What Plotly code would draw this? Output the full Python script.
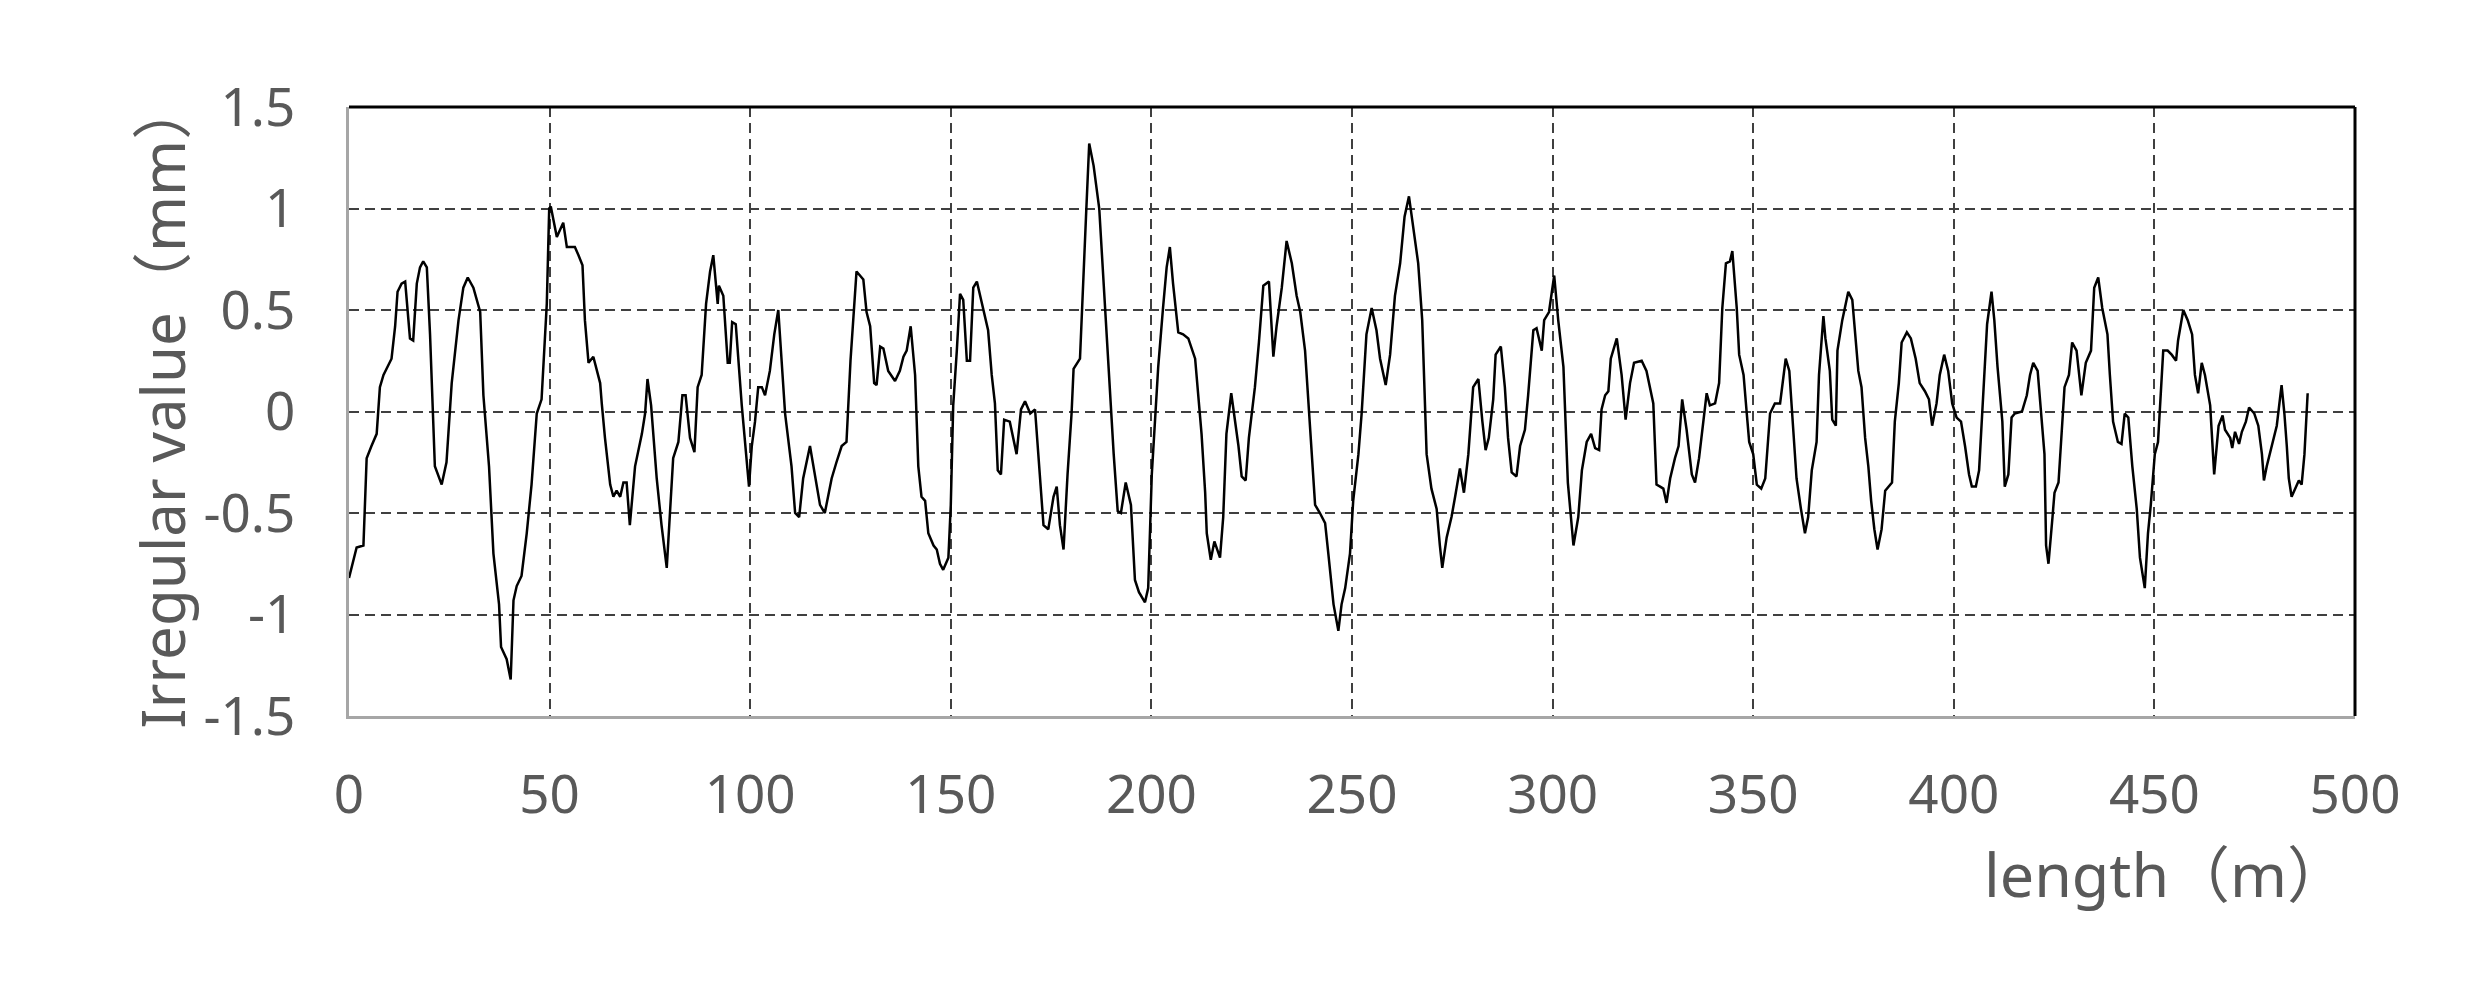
import plotly.graph_objects as go

# length along the track (m) and irregularity (mm) in four sections
len_a = [0, 1.9, 3.6, 4.4, 5.6, 6.9, 7.7, 8.6, 10.6, 11.5, 12.1, 13.1, 14.0, 15.2, 16.0, 16.9, 17.7, 18.5, 19.4, 20.2,
         21.4, 23.1, 24.3, 25.6, 27.3, 28.5, 29.6, 31.0, 32.7, 33.5, 34.9, 36.0, 37.4, 37.9, 39.3, 40.3, 41.0, 41.8, 43.0, 44.3,
         45.5, 46.8, 48.0, 48.7, 49.3, 49.9, 50.3, 51.8, 53.4, 54.3, 56.3, 57.2, 58.2, 58.8, 59.7, 60.9, 62.6,
         63.0, 63.8, 65.1, 65.9, 66.7, 67.6, 68.4, 69.2, 70.0, 71.3, 73.0, 73.8, 74.4, 75.3, 76.7, 77.9, 79.2, 80.8, 82.1, 83.1,
         83.9, 85.0, 86.1, 86.9, 87.9, 89.0, 90.0, 90.8, 91.9, 92.2, 93.3, 94.4, 94.9, 95.5, 96.4, 97.9, 99.7, 100.4, 101.2, 102.0,
         102.9, 103.7, 104.9, 106.0, 107.0, 108.7, 110.3, 111.2, 112.2, 113.2, 114.9, 116.3, 117.4, 118.6, 120.3, 121.5, 122.8, 124.0]
val_a = [-0.82, -0.67, -0.66, -0.23, -0.17, -0.11, 0.12, 0.18, 0.26, 0.42, 0.59, 0.63, 0.64, 0.36, 0.35, 0.63, 0.71, 0.74, 0.71, 0.38,
         -0.27, -0.36, -0.25, 0.14, 0.45, 0.61, 0.66, 0.61, 0.49, 0.08, -0.27, -0.70, -0.95, -1.16, -1.22, -1.32, -0.93, -0.86, -0.81, -0.60,
         -0.36, -0.01, 0.06, 0.30, 0.53, 1.00, 1.01, 0.86, 0.93, 0.81, 0.81, 0.77, 0.72, 0.45, 0.24, 0.27, 0.14,
         0.04, -0.13, -0.36, -0.42, -0.39, -0.42, -0.35, -0.35, -0.56, -0.27, -0.11, -0.01, 0.16, 0.03, -0.33, -0.56, -0.77, -0.23, -0.15, 0.08,
         0.08, -0.13, -0.20, 0.12, 0.18, 0.53, 0.69, 0.77, 0.53, 0.62, 0.57, 0.24, 0.24, 0.44, 0.43, 0.03, -0.37, -0.17, -0.05, 0.12,
         0.12, 0.08, 0.20, 0.38, 0.50, -0.01, -0.27, -0.50, -0.52, -0.33, -0.17, -0.33, -0.46, -0.50, -0.33, -0.25, -0.17, -0.15]

len_b = [125.0, 126.5, 128.2, 129.0, 129.9, 130.9, 131.5, 132.4, 133.2, 134.4, 136.1, 137.3, 138.2, 139.0, 140.0, 141.1, 141.9, 142.7, 143.6, 144.4,
         145.7, 146.5, 147.3, 148.1, 149.4, 150.0, 150.6, 151.5, 152.3, 153.1, 154.0, 154.8, 155.6, 156.5, 157.7, 159.3, 160.2, 161.0, 161.7, 162.5,
         163.3, 164.7, 166.4, 167.5, 168.5, 169.8, 171.0, 171.8, 173.1, 174.3, 175.6, 176.4, 177.2, 178.1, 179.1, 180.1, 180.6, 182.2, 182.8, 183.7,
         184.5, 185.6,
         187.0, 188.2, 189.0, 189.7, 190.6, 191.6, 192.4, 193.6, 194.9, 195.9, 196.9, 198.4, 199.2, 200.1, 200.9, 201.7, 202.9, 203.8, 204.6, 205.4,
         206.7, 207.9, 209.2, 210.9, 212.5, 213.4, 213.8, 214.8, 215.7, 217.1, 217.9, 218.7, 219.9, 221.7, 222.5, 223.5, 224.3, 225.8, 226.8, 227.9,
         229.3, 230.4, 231.2, 232.5, 233.7, 235.0, 236.2, 237.1, 238.3, 239.8, 240.8, 242.0, 243.3, 244.1, 245.4, 246.6, 247.4, 248.3, 249.5]
val_b = [0.25, 0.69, 0.65, 0.49, 0.42, 0.14, 0.13, 0.32, 0.31, 0.20, 0.15, 0.20, 0.27, 0.30, 0.42, 0.18, -0.27, -0.42, -0.44, -0.60,
         -0.66, -0.68, -0.75, -0.78, -0.72, -0.46, 0.03, 0.30, 0.58, 0.55, 0.25, 0.25, 0.61, 0.64, 0.53, 0.40, 0.18, 0.04, -0.29, -0.31,
         -0.04, -0.05, -0.21, 0.01, 0.05, -0.01, 0.01, -0.21, -0.56, -0.58, -0.42, -0.37, -0.56, -0.68, -0.31, -0.01, 0.21, 0.26, 0.57, 0.96,
         1.32, 1.21,
         1.00, 0.59, 0.28, 0.10, -0.21, -0.49, -0.50, -0.35, -0.46, -0.83, -0.89, -0.94, -0.87, -0.31, -0.07, 0.22, 0.51, 0.71, 0.81, 0.63,
         0.39, 0.38, 0.36, 0.26, -0.11, -0.40, -0.60, -0.73, -0.64, -0.72, -0.52, -0.11, 0.09, -0.17, -0.32, -0.34, -0.13, 0.12, 0.34, 0.62,
         0.64, 0.27, 0.42, 0.61, 0.84, 0.73, 0.57, 0.49, 0.30, -0.17, -0.46, -0.50, -0.55, -0.70, -0.95, -1.08, -0.95, -0.87, -0.70]

len_c = [250.3, 251.6, 252.4, 253.6, 254.9, 256.1, 257.0, 258.4, 259.5, 260.7, 262.0, 263.1, 264.2, 265.3, 266.5, 267.5, 268.2, 268.6, 269.8, 271.1,
         271.9, 272.5, 273.6, 274.8, 275.7, 276.9, 277.9, 279.0, 280.2, 281.5, 282.5, 283.3, 284.1, 285.2, 285.8, 287.1, 288.1, 288.9, 289.8, 291.0,
         291.9, 293.1, 293.9, 295.2, 296.0, 297.3, 297.9, 299.1, 300.4, 301.4, 302.7, 303.8, 305.2, 306.4, 307.3, 308.5, 309.6, 310.6,
         311.6, 312.2, 313.1, 313.9, 314.5, 316.0, 317.2, 318.2, 319.3, 320.3, 322.2, 323.4, 325.1, 325.9, 326.8, 327.6, 328.4, 329.3, 330.5, 331.4,
         332.3, 333.4, 334.7, 335.5, 336.5, 337.6, 338.4, 339.2, 340.5, 341.5, 342.3, 343.2, 344.2, 344.8, 345.9, 346.5, 347.6, 348.4, 349.0, 350.0,
         350.9, 352.0, 353.0, 354.2, 355.4, 356.7, 358.1, 359.0, 360.0, 360.8, 361.9, 362.9, 363.7, 364.6, 365.8, 366.4, 367.5, 368.0, 369.1, 369.7,
         370.6, 371.0, 372.2]
val_c = [-0.44, -0.21, -0.01, 0.38, 0.51, 0.40, 0.26, 0.13, 0.28, 0.57, 0.73, 0.96, 1.06, 0.90, 0.73, 0.45, 0.03, -0.21, -0.38, -0.48,
         -0.66, -0.77, -0.62, -0.52, -0.42, -0.28, -0.40, -0.21, 0.12, 0.16, -0.05, -0.19, -0.13, 0.06, 0.28, 0.32, 0.12, -0.13, -0.30, -0.32,
         -0.17, -0.09, 0.08, 0.40, 0.41, 0.30, 0.45, 0.49, 0.67, 0.45, 0.22, -0.35, -0.66, -0.52, -0.29, -0.15, -0.11, -0.18,
         -0.19, 0.01, 0.08, 0.10, 0.26, 0.36, 0.18, -0.04, 0.14, 0.24, 0.25, 0.20, 0.04, -0.36, -0.37, -0.38, -0.45, -0.33, -0.23, -0.17,
         0.06, -0.09, -0.31, -0.35, -0.23, -0.05, 0.09, 0.03, 0.04, 0.14, 0.51, 0.73, 0.74, 0.79, 0.51, 0.28, 0.18, -0.01, -0.15, -0.21,
         -0.36, -0.38, -0.33, -0.01, 0.04, 0.04, 0.26, 0.20, -0.07, -0.33, -0.48, -0.60, -0.52, -0.29, -0.15, 0.18, 0.47, 0.36, 0.20, -0.04,
         -0.07, 0.30, 0.45]

len_d = [373.7, 374.7, 375.4, 376.2, 377.0, 377.9, 378.7, 379.4, 380.2, 381.0, 382.0, 382.9, 384.6, 385.3, 386.3, 387.0, 388.3, 389.3, 390.5, 391.5,
         392.8, 393.8, 394.6, 395.7, 396.5, 397.6, 398.6, 399.6, 400.7, 401.8, 402.8, 403.8, 404.5, 405.5, 406.3, 407.1, 408.3, 409.4, 410.1, 410.9,
         412.1, 412.7, 413.6, 414.4, 415.2, 417.0, 418.2, 419.0, 419.8, 420.9, 421.7, 422.6, 423.0, 423.6, 424.6, 425.1, 426.1, 426.9, 427.6, 428.7,
         429.5, 430.6, 431.8, 432.9, 434.2, 435.0,
         436.0, 437.0, 438.3, 438.9, 439.7, 440.9, 441.8, 442.6, 443.5, 444.5, 445.6, 446.4, 447.6, 448.4, 449.1, 450.1, 450.9, 452.2, 453.3, 454.3,
         455.4, 455.9, 457.2, 458.3, 459.4, 460.1, 460.9, 461.8, 462.6, 463.9, 464.9, 466.0, 467.0, 467.6, 468.9, 469.4, 470.1, 471.1, 471.8, 472.8,
         473.6, 474.9, 475.9, 476.8, 477.3, 478.0, 479.2, 480.5, 481.7, 482.4, 483.0, 483.5, 484.2, 485.0, 486.0, 486.7, 487.4, 488.2]
val_d = [0.59, 0.55, 0.38, 0.20, 0.12, -0.13, -0.27, -0.44, -0.58, -0.68, -0.58, -0.39, -0.35, -0.05, 0.14, 0.34, 0.39, 0.36, 0.26, 0.14,
         0.10, 0.06, -0.07, 0.04, 0.18, 0.28, 0.20, 0.04, -0.03, -0.05, -0.17, -0.31, -0.37, -0.37, -0.29, -0.01, 0.43, 0.59, 0.45, 0.22,
         -0.05, -0.37, -0.31, -0.03, -0.01, 0.00, 0.08, 0.18, 0.24, 0.20, -0.01, -0.21, -0.66, -0.75, -0.52, -0.40, -0.35, -0.11, 0.12, 0.18,
         0.34, 0.30, 0.08, 0.24, 0.30, 0.61,
         0.66, 0.51, 0.38, 0.18, -0.05, -0.15, -0.16, -0.01, -0.03, -0.27, -0.48, -0.72, -0.87, -0.60, -0.46, -0.21, -0.15, 0.30, 0.30, 0.28,
         0.25, 0.35, 0.50, 0.45, 0.38, 0.18, 0.09, 0.24, 0.18, 0.03, -0.31, -0.07, -0.02, -0.09, -0.13, -0.18, -0.10, -0.16, -0.10, -0.05,
         0.02, -0.01, -0.07, -0.21, -0.34, -0.27, -0.17, -0.07, 0.13, -0.01, -0.17, -0.33, -0.42, -0.38, -0.34, -0.36, -0.21, 0.09]

x_ticks = [0, 50, 100, 150, 200, 250, 300, 350, 400, 450, 500]
y_ticks = [-1.5, -1, -0.5, 0, 0.5, 1, 1.5]

for a, b in [(len_a, val_a), (len_b, val_b), (len_c, val_c), (len_d, val_d)]:
    assert len(a) == len(b), (len(a), len(b))

length = len_a + len_b + len_c + len_d
irregular = val_a + val_b + val_c + val_d

font_fam = "Noto Sans, Noto Sans CJK SC, sans-serif"
txt = "#595959"

fig = go.Figure()
fig.add_trace(go.Scatter(x=length, y=irregular, mode="lines",
                         line=dict(color="black", width=2.5), showlegend=False))

# page body has an 8px margin, so margins are shifted by 8
fig.update_layout(
    width=2478, height=1000,
    margin=dict(l=341, r=131, t=99, b=292),
    paper_bgcolor="white", plot_bgcolor="white",
    font=dict(family=font_fam, color=txt),
    xaxis=dict(range=[0, 500], tickvals=x_ticks, ticktext=[str(v) for v in x_ticks],
               showgrid=True, gridcolor="#404040", gridwidth=2, griddash="10px,6px",
               showline=True, linecolor="#a6a6a6", linewidth=3, zeroline=False,
               tickfont=dict(size=53, color=txt), ticklabelstandoff=30),
    yaxis=dict(range=[-1.5, 1.5], tickvals=y_ticks, ticktext=["-1.5", "-1", "-0.5", "0", "0.5", "1", "1.5"],
               showgrid=True, gridcolor="#404040", gridwidth=2, griddash="10px,6px",
               showline=True, linecolor="#a6a6a6", linewidth=3, zeroline=False,
               tickfont=dict(size=53, color=txt), ticklabelstandoff=40),
)

# black frame on top and right
fig.add_shape(type="line", xref="paper", yref="paper", x0=0, x1=1, y0=1, y1=1, line=dict(color="black", width=3))
fig.add_shape(type="line", xref="paper", yref="paper", x0=1, x1=1, y0=0, y1=1, line=dict(color="black", width=3))

fig.add_annotation(text="Irregular value（mm）", xref="paper", yref="paper", x=-0.093, y=0.512,
                   xanchor="center", yanchor="middle", textangle=-90, showarrow=False,
                   font=dict(size=60, color=txt, family=font_fam))
fig.add_annotation(text="length（m）", xref="paper", yref="paper", x=0.906, y=-0.259,
                   xanchor="center", yanchor="middle", showarrow=False,
                   font=dict(size=61, color=txt, family=font_fam))

fig.write_html("out.html")
